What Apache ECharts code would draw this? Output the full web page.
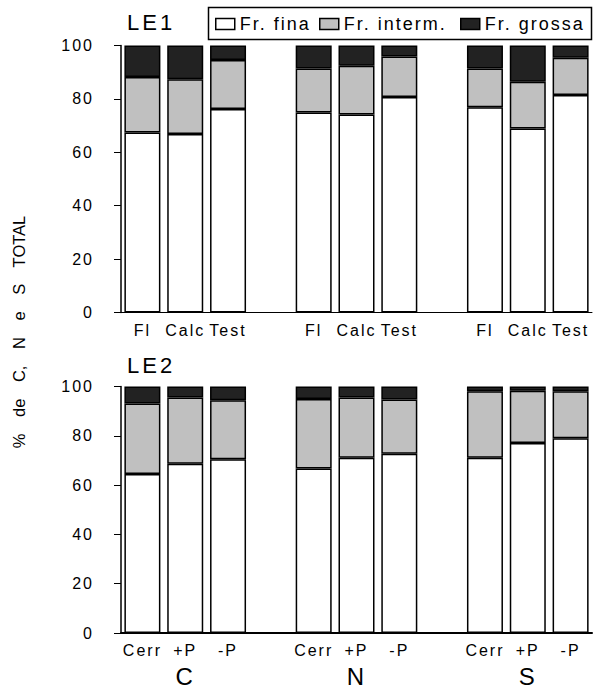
<!DOCTYPE html>
<html>
<head>
<meta charset="utf-8">
<script src="https://cdn.jsdelivr.net/npm/echarts@6/dist/echarts.min.js"></script>
<style>
  html, body { margin: 0; padding: 0; background: #fff; }
  #main { width: 593px; height: 688px; }
  /* the source figure has spaced-out lettering */
  #main text { letter-spacing: 2px; }
  #main text[style*="22px"] { letter-spacing: 3px; }
  #main text[style*="16.5px"] { letter-spacing: 0; word-spacing: 12px; }
</style>
</head>
<body>
<div id="main"></div>
<script>
// categories (empty slots are the gaps between groups)
const cats1 = ['Fl', 'Calc', 'Test', '', 'Fl', 'Calc', 'Test', '', 'Fl', 'Calc', 'Test'];
const cats2 = ['Cerr', '+P', '-P', '', 'Cerr', '+P', '-P', '', 'Cerr', '+P', '-P'];
const groups = ['', 'C', '', '', '', 'N', '', '', '', 'S', ''];
const yTicks = [0, 20, 40, 60, 80, 100];

// LE1
const fina1 = [67.4, 66.9, 76.2, null, 74.9, 74.2, 80.7, null, 76.9, 68.9, 81.5];
const interm1 = [20.8, 20.5, 18.4, null, 16.5, 18.2, 15.2, null, 14.5, 17.5, 13.9];
const grossa1 = [11.8, 12.6, 5.4, null, 8.6, 7.6, 4.1, null, 8.6, 13.6, 4.6];

// LE2
const fina2 = [64.5, 68.7, 70.5, null, 66.7, 71.1, 72.7, null, 71.1, 77.1, 79.0];
const interm2 = [28.6, 26.8, 23.9, null, 28.2, 24.4, 22.0, null, 27.0, 21.2, 19.1];
const grossa2 = [6.9, 4.5, 5.6, null, 5.1, 4.5, 5.3, null, 1.9, 1.7, 1.9];

const names = ['Fr. fina', 'Fr. interm.', 'Fr. grossa'];
const colors = ['#ffffff', '#c0c0c0', '#222222'];
const FONT = 'Liberation Sans';

const chart = echarts.init(document.getElementById('main'), null, { renderer: 'svg' });

function yAxisFor(idx) {
  return {
    type: 'value',
    gridIndex: idx,
    min: yTicks[0],
    max: yTicks[yTicks.length - 1],
    interval: yTicks[1] - yTicks[0],
    splitLine: { show: false },
    axisLine: { show: true, lineStyle: { color: '#000', width: 1.5 } },
    axisTick: { show: true, length: 7, lineStyle: { color: '#000', width: 1 } },
    axisLabel: { color: '#000', fontSize: 16, fontFamily: FONT, margin: 27 }
  };
}

function barSeries(name, i, data, idx) {
  return {
    name: name,
    type: 'bar',
    stack: 'le' + idx,
    xAxisIndex: idx,
    yAxisIndex: idx,
    barWidth: 36,
    data: data,
    itemStyle: { color: colors[i], borderColor: '#000', borderWidth: 1.5 },
    emphasis: { disabled: true }
  };
}

const legendCommon = {
  top: 15,
  padding: 0,
  icon: 'rect',
  itemWidth: 19,
  itemHeight: 11,
  selectedMode: false,
  itemStyle: { borderColor: '#000', borderWidth: 1.5 },
  textStyle: { color: '#000', fontSize: 18, fontFamily: FONT }
};

const option = {
  animation: false,
  backgroundColor: '#fff',
  title: [
    { text: 'LE1', left: 127, top: 11, padding: 0,
      textStyle: { color: '#000', fontSize: 22, fontWeight: 'normal', fontFamily: FONT } },
    { text: 'LE2', left: 127, top: 354, padding: 0,
      textStyle: { color: '#000', fontSize: 22, fontWeight: 'normal', fontFamily: FONT } }
  ],
  legend: [
    Object.assign({ data: [names[0]], left: 215 }, legendCommon),
    Object.assign({ data: [names[1]], left: 319 }, legendCommon),
    Object.assign({ data: [names[2]], left: 460 }, legendCommon)
  ],
  grid: [
    { left: 121, width: 471, top: 45.5, height: 267 },
    { left: 121, width: 471, top: 386.5, height: 249.5 }
  ],
  xAxis: [
    {
      type: 'category', gridIndex: 0, data: cats1,
      axisTick: { show: false },
      axisLine: { lineStyle: { color: '#000', width: 1 } },
      axisLabel: { color: '#000', fontSize: 16, fontFamily: FONT, margin: 10, interval: 0 }
    },
    {
      type: 'category', gridIndex: 1, data: cats2, position: 'bottom',
      axisTick: { show: false },
      axisLine: { lineStyle: { color: '#000', width: 2 } },
      axisLabel: { color: '#000', fontSize: 16, fontFamily: FONT, margin: 9, interval: 0 }
    },
    {
      type: 'category', gridIndex: 1, data: groups, position: 'bottom',
      axisTick: { show: false },
      axisLine: { show: false },
      axisLabel: { color: '#000', fontSize: 24, fontFamily: FONT, margin: 31, interval: 0 }
    }
  ],
  yAxis: [yAxisFor(0), yAxisFor(1)],
  graphic: [
    {
      type: 'rect',
      shape: { x: 208.5, y: 7.5, width: 383, height: 32 },
      style: { fill: 'none', stroke: '#000', lineWidth: 1.5 },
      silent: true
    },
    {
      type: 'text',
      x: 19,
      y: 332,
      rotation: Math.PI / 2,
      style: {
        text: '% de C, N e S TOTAL',
        fill: '#000',
        font: '16.5px "Liberation Sans"',
        textAlign: 'center',
        textVerticalAlign: 'middle'
      },
      silent: true
    }
  ],
  series: [
    barSeries(names[0], 0, fina1, 0),
    barSeries(names[1], 1, interm1, 0),
    barSeries(names[2], 2, grossa1, 0),
    barSeries(names[0], 0, fina2, 1),
    barSeries(names[1], 1, interm2, 1),
    barSeries(names[2], 2, grossa2, 1)
  ]
};

chart.setOption(option);
</script>
</body>
</html>
